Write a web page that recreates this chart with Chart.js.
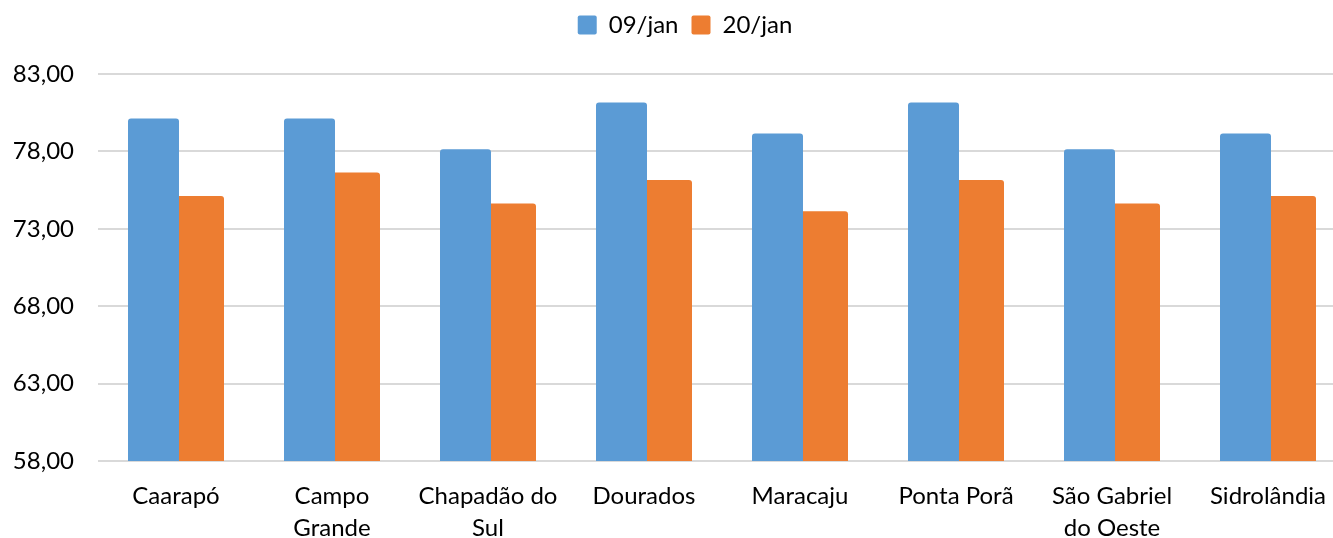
<!DOCTYPE html>
<html>
<head>
<meta charset="utf-8">
<script src="https://cdn.jsdelivr.net/npm/chart.js@4"></script>
<style>
html,body{margin:0;padding:0;background:#fff;overflow:hidden;}
#wrap{width:1333px;height:538px;position:relative;overflow:hidden;}
</style>
</head>
<body>
<div id="wrap"><canvas id="c" width="1346" height="538"></canvas></div>
<script>
const categories = ["Caarapó", ["Campo", "Grande"], ["Chapadão do", "Sul"], "Dourados", "Maracaju", "Ponta Porã", ["São Gabriel", "do Oeste"], "Sidrolândia"];
const seriesNames = ["09/jan", "20/jan"];
const values0901 = [80.13, 80.13, 78.14, 81.16, 79.15, 81.16, 78.14, 79.15];
const values2001 = [75.12, 76.63, 74.63, 76.15, 74.14, 76.15, 74.63, 75.12];
const yMin = 58, yMax = 83, yStep = 5;

const FONT = "Lato, 'Open Sans', sans-serif";
new Chart(document.getElementById('c'), {
  type: 'bar',
  data: {
    labels: categories,
    datasets: [
      {label: seriesNames[0], data: values0901, backgroundColor: '#5B9BD5', borderRadius: {topLeft: 3, topRight: 3}, borderSkipped: 'bottom', categoryPercentage: 0.577, barPercentage: 1.133},
      {label: seriesNames[1], data: values2001, backgroundColor: '#ED7D31', borderRadius: {topLeft: 3, topRight: 3}, borderSkipped: 'bottom', categoryPercentage: 0.577, barPercentage: 1.133}
    ]
  },
  options: {
    responsive: false,
    animation: false,
    layout: {padding: {left: 0, right: 0, top: 0, bottom: 0}},
    plugins: {
      legend: {
        position: 'top',
        labels: {font: {family: FONT, size: 24}, color: '#000', boxWidth: 19, boxHeight: 19, padding: 13, useBorderRadius: true, borderRadius: 2}
      },
      tooltip: {enabled: false}
    },
    scales: {
      x: {
        grid: {display: false, drawTicks: false},
        border: {display: false},
        ticks: {font: {family: FONT, size: 24, lineHeight: 1.333}, color: '#000', padding: 19, maxRotation: 0, autoSkip: false},
        afterFit: s => { s.height = 77; }
      },
      y: {
        min: yMin, max: yMax,
        ticks: {stepSize: yStep, font: {family: FONT, size: 24}, color: '#000', padding: 24,
          callback: v => v.toFixed(2).replace('.', ',')},
        grid: {color: '#d9d9d9', lineWidth: 2, drawTicks: false},
        border: {display: false},
        afterFit: s => { s.width = 98; }
      }
    }
  },
  plugins: [{
    id: 'legendFit',
    beforeInit(chart) {
      const lg = chart.legend;
      if (lg) {
        const f = lg.fit;
        lg.fit = function() { f.call(this); this.height = 74; };
        const d = lg.draw;
        lg.draw = function() {
          const ctx = this.ctx;
          ctx.save(); ctx.translate(12, 0); d.apply(this, arguments); ctx.restore();
        };
      }
    }
  }]
});
</script>
</body>
</html>
